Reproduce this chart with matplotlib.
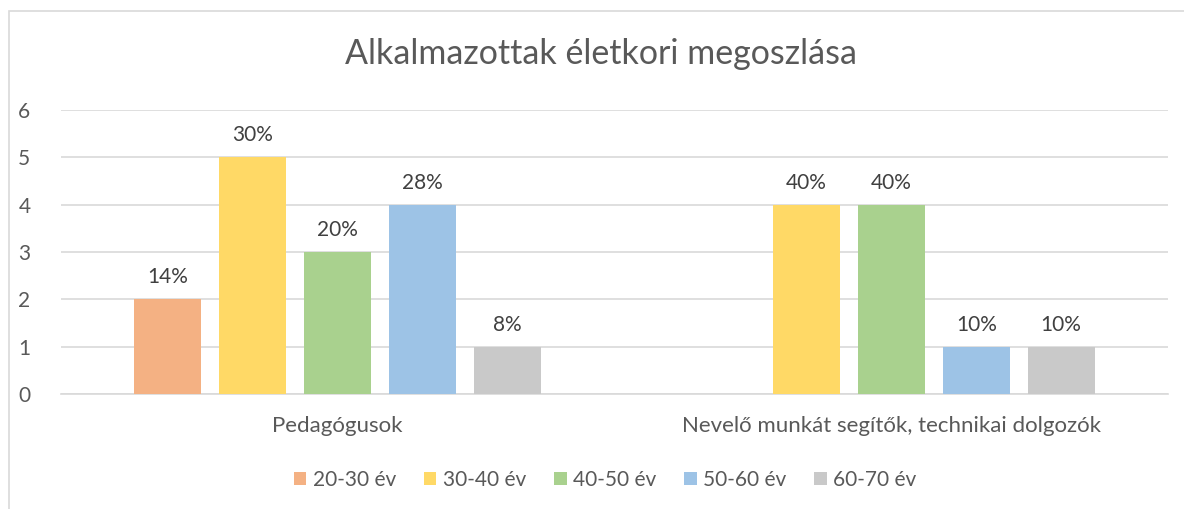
import matplotlib.pyplot as plt
import numpy as np

plt.rcParams['font.family'] = ['Lato', 'DejaVu Sans']

categories = ["Pedagógusok", "Nevelő munkát segítők, technikai dolgozók"]
series = ["20-30 év", "30-40 év", "40-50 év", "50-60 év", "60-70 év"]
values = [
    [2, 0],
    [5, 4],
    [3, 4],
    [4, 1],
    [1, 1],
]
labels = [
    ["14%", ""],
    ["30%", "40%"],
    ["20%", "40%"],
    ["28%", "10%"],
    ["8%", "10%"],
]
colors = ["#F4B183", "#FFD966", "#A9D18E", "#9DC3E6", "#C9C9C9"]

fig = plt.figure(figsize=(11.84, 5.09), dpi=100)
ax = fig.add_axes([0.0515, 0.226, 0.935, 0.558])

x = np.arange(len(categories))
step = 0.1535
width = 0.121
for i, (name, vals) in enumerate(zip(series, values)):
    pos = x + (i - 2) * step
    ax.bar(pos, vals, width, color=colors[i], label=name, zorder=3)
    for p, v, lab in zip(pos, vals, labels[i]):
        if lab:
            ax.text(p, v + 0.25, lab, ha="center", va="bottom", fontsize=15, color="#404040")

ax.set_xlim(-0.5, 1.5)
ax.set_ylim(0, 6)
ax.set_yticks(range(7))
ax.yaxis.grid(True, color="#D9D9D9", linewidth=1.2, zorder=0)
ax.set_xticks(x)
ax.set_xticklabels(categories, fontsize=16)
ax.tick_params(axis="both", length=0, labelcolor="#595959")
ax.tick_params(axis="y", labelsize=15, pad=22)
ax.tick_params(axis="x", pad=16)
for s in ["top", "right", "left"]:
    ax.spines[s].set_visible(False)
ax.spines["bottom"].set_color("#D9D9D9")
ax.spines["bottom"].set_linewidth(1.2)

fig.suptitle("Alkalmazottak életkori megoszlása", x=0.508, y=0.925, fontsize=24.5, color="#595959")

fig.legend(loc="center", bbox_to_anchor=(0.511, 0.057), ncol=5, frameon=False,
           fontsize=15, labelcolor="#595959", handlelength=0.6, handleheight=0.6,
           handletextpad=0.3, columnspacing=1.35)

border = plt.Rectangle((0.0076, -0.1), 1.2, 1.078, transform=fig.transFigure,
                       fill=False, edgecolor="#D9D9D9", linewidth=1.2)
fig.patches.append(border)

fig.savefig("out.png", dpi=100)
